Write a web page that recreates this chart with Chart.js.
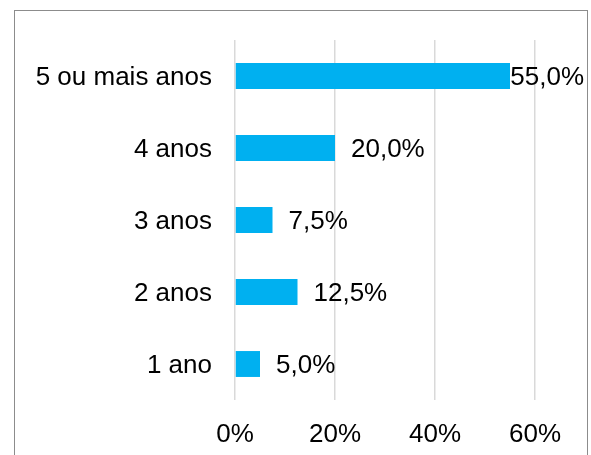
<!DOCTYPE html>
<html>
<head>
<meta charset="utf-8">
<script src="https://cdn.jsdelivr.net/npm/chart.js@4/dist/chart.umd.min.js"></script>
<style>
  html, body { margin: 0; padding: 0; background: #fff; overflow: hidden; }
  #wrap { position: relative; width: 591px; height: 455px; }
  #frame { position: absolute; left: 14px; top: 10px; width: 574px; height: 460px; border: 1.5px solid #8c8c8c; box-sizing: border-box; }
  canvas { position: absolute; left: 0; top: 0; }
</style>
</head>
<body>
<div id="wrap">
  <div id="frame"></div>
  <canvas id="chart" width="591" height="455"></canvas>
</div>
<script>
  const categories = ['5 ou mais anos', '4 anos', '3 anos', '2 anos', '1 ano'];
  const values = [55, 20, 7.5, 12.5, 5];
  const tickValues = [0, 20, 40, 60];

  const fontFamily = '"Liberation Sans", Arial, sans-serif';

  // value labels right of each bar, kept inside the frame like Excel does
  const barLabels = {
    id: 'barLabels',
    afterDatasetsDraw(chart) {
      const ctx = chart.ctx;
      const meta = chart.getDatasetMeta(0);
      ctx.save();
      ctx.font = '26px ' + fontFamily;
      ctx.fillStyle = '#000';
      ctx.textAlign = 'left';
      ctx.textBaseline = 'middle';
      meta.data.forEach((bar, i) => {
        const text = values[i].toFixed(1).replace('.', ',') + '%';
        const w = ctx.measureText(text).width;
        let x = bar.x + 16;
        if (x + w > 584) x = 584 - w;
        ctx.fillText(text, x, bar.y + 2);
      });
      ctx.restore();
    }
  };

  new Chart(document.getElementById('chart'), {
    type: 'bar',
    data: {
      labels: categories,
      datasets: [{
        data: values,
        backgroundColor: '#00B0F0',
        borderWidth: 0,
        categoryPercentage: 1,
        barPercentage: 0.36
      }]
    },
    options: {
      indexAxis: 'y',
      responsive: false,
      animation: false,
      layout: { padding: { top: 40, right: 56, left: 0, bottom: 0 } },
      plugins: {
        legend: { display: false },
        tooltip: { enabled: false }
      },
      scales: {
        x: {
          min: 0,
          max: 60,
          afterBuildTicks: (scale) => {
            scale.ticks = tickValues.map((v) => ({ value: v }));
          },
          afterFit: (scale) => { scale.height = 55; },
          grid: { color: '#d9d9d9', lineWidth: 1.5, drawTicks: false },
          border: { display: false },
          ticks: {
            padding: 19,
            color: '#000',
            font: { family: fontFamily, size: 26 },
            callback: (v) => v + '%'
          }
        },
        y: {
          afterFit: (scale) => { scale.width = 235; },
          grid: { display: false, drawTicks: false },
          border: { display: false },
          ticks: {
            padding: 23,
            labelOffset: 2,
            color: '#000',
            font: { family: fontFamily, size: 26 }
          }
        }
      }
    },
    plugins: [barLabels]
  });
</script>
</body>
</html>
